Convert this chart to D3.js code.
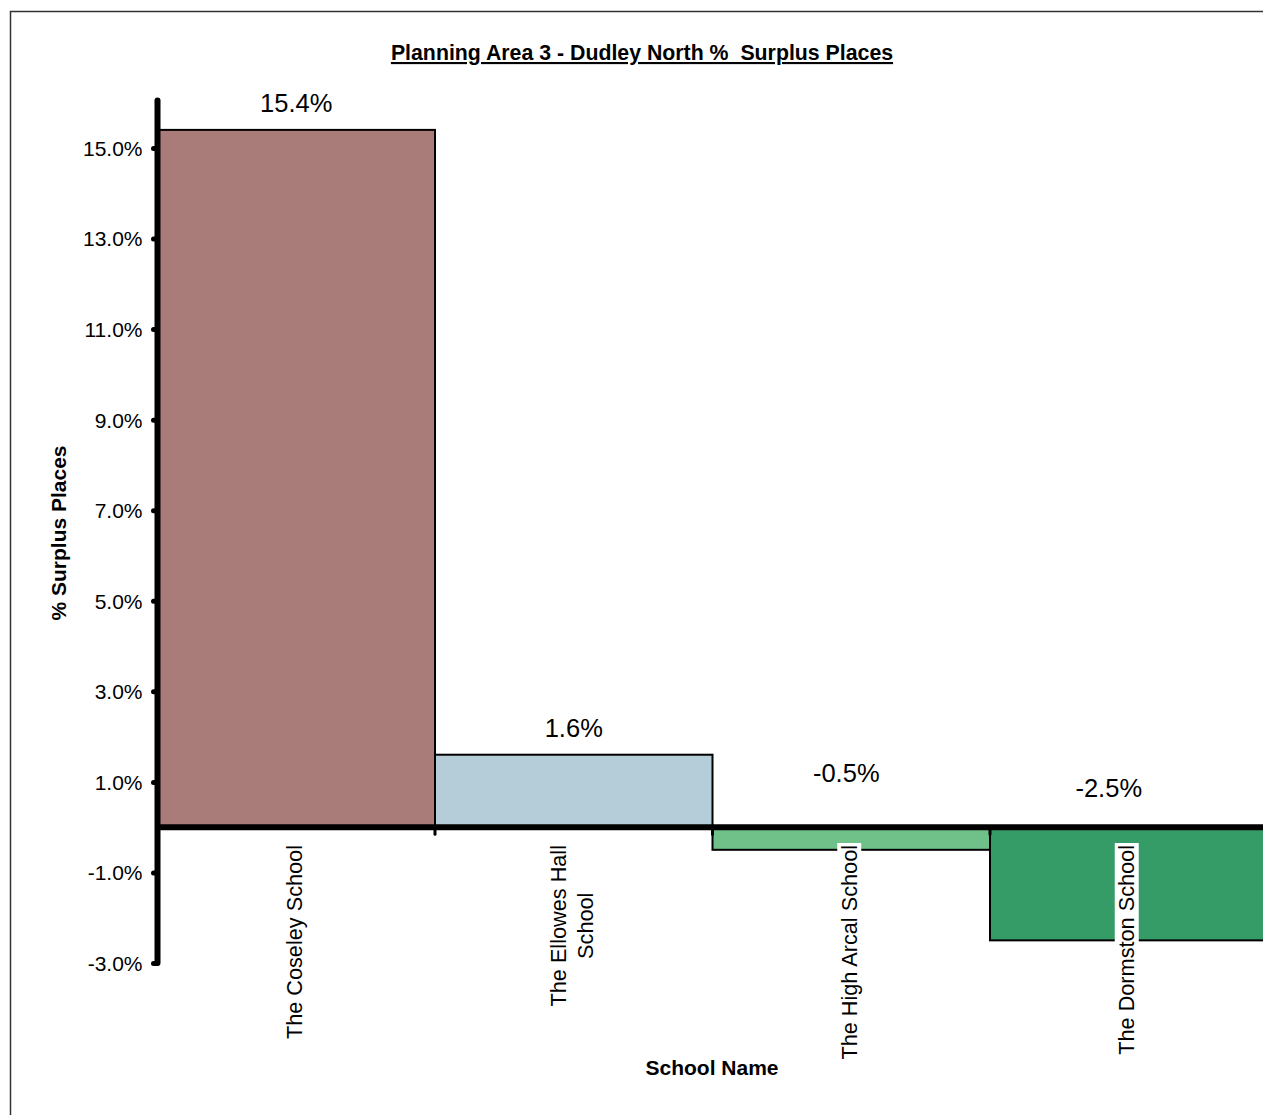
<!DOCTYPE html>
<html><head><meta charset="utf-8">
<script src="https://cdnjs.cloudflare.com/ajax/libs/d3/7.8.5/d3.min.js"></script>
<style>body{margin:0;background:#fff;}svg{display:block;font-family:"Liberation Sans",Arial,sans-serif;}</style>
</head><body>
<script>
const categories = [["The Coseley School"], ["The Ellowes Hall", "School"], ["The High Arcal School"], ["The Dormston School"]];
const values = [15.4, 1.6, -0.5, -2.5];
const valueLabels = ["15.4%", "1.6%", "-0.5%", "-2.5%"];
const colors = ["#a97b79", "#b4cdd8", "#6fc189", "#359c67"];
const tickValues = [-3, -1, 1, 3, 5, 7, 9, 11, 13, 15];
const titleText = "Planning Area 3 - Dudley North %  Surplus Places";
const yTitle = "% Surplus Places";
const xTitle = "School Name";

const W = 1263, H = 1115;
const svg = d3.select("body").append("svg").attr("width", W).attr("height", H);
svg.append("rect").attr("width", W).attr("height", H).attr("fill", "#fff");
svg.append("rect").attr("x", 10.5).attr("y", 11.5).attr("width", 1400).attr("height", 1300)
  .attr("fill", "none").attr("stroke", "#333").attr("stroke-width", 1.5);

const x0 = 157.5, bandW = 277.5;
const x = d3.scaleBand().domain(d3.range(values.length)).range([x0, x0 + bandW * values.length]).padding(0);
const y = d3.scaleLinear().domain([-3, 15]).range([963, 148]);

// bars
svg.selectAll("rect.bar").data(values).join("rect").attr("class", "bar")
  .attr("x", (d, i) => x(i)).attr("width", x.bandwidth())
  .attr("y", d => y(Math.max(0, d))).attr("height", d => Math.abs(y(d) - y(0)))
  .attr("fill", (d, i) => colors[i]).attr("stroke", "#000").attr("stroke-width", 2);

// zero line
svg.append("line").attr("x1", x0).attr("x2", W + 10).attr("y1", y(0)).attr("y2", y(0))
  .attr("stroke", "#000").attr("stroke-width", 6);
// category boundary ticks
svg.selectAll("line.ct").data(d3.range(1, values.length)).join("line").attr("class", "ct")
  .attr("x1", i => x(i)).attr("x2", i => x(i)).attr("y1", y(0)).attr("y2", y(0) + 7)
  .attr("stroke", "#000").attr("stroke-width", 3).attr("stroke-linecap", "round");

// y axis
const yAxis = d3.axisLeft(y).tickValues(tickValues).tickSize(4).tickPadding(6)
  .tickFormat(d => d.toFixed(1) + "%");
const ga = svg.append("g").attr("transform", `translate(${x0},0)`).call(yAxis);
ga.select(".domain").remove();
ga.selectAll(".tick line").attr("stroke", "#000").attr("stroke-width", 5).attr("stroke-linecap", "round")
  .attr("x2", -4).attr("x1", -1);
ga.selectAll(".tick text").attr("font-size", 21).attr("font-family", "Liberation Sans, Arial, sans-serif")
  .attr("fill", "#000").attr("x", -15).attr("dy", "0.35em");
svg.append("line").attr("x1", x0).attr("x2", x0).attr("y1", y(16.05)).attr("y2", y(-3))
  .attr("stroke", "#000").attr("stroke-width", 6).attr("stroke-linecap", "round");

// value labels
svg.selectAll("text.vl").data(values).join("text").attr("class", "vl")
  .attr("x", (d, i) => x(i) + x.bandwidth() / 2 + (d >= 0 ? 0 : -5 - (Math.abs(d) - 0.5) * 7.5))
  .attr("y", d => d >= 0 ? y(d) - 27 + 9 : y(0) - 54 + (Math.abs(d) - 0.5) * 7.5 + 9)
  .attr("text-anchor", "middle").attr("font-size", 25.5).attr("fill", "#000")
  .text((d, i) => valueLabels[i]);

// category labels
const labelTop = 845, lineGap = 27, fs = 21.7;
categories.forEach((lines, i) => {
  const cx = x(i) + x.bandwidth() / 2;
  const g = svg.append("g");
  const bg = g.append("rect").attr("fill", "#fff");
  const n = lines.length;
  const texts = lines.map((t, k) => g.append("text")
    .attr("font-size", fs).attr("fill", "#000").attr("text-anchor", "middle").text(t));
  const maxLen = d3.max(texts, t => t.node().getComputedTextLength());
  const cy = labelTop + maxLen / 2;
  texts.forEach((t, k) => {
    const lx = cx + (k - (n - 1) / 2) * lineGap;
    t.attr("transform", `translate(${lx + 5.5},${cy}) rotate(-90)`);
  });
  const bw = (n - 1) * lineGap + 24;
  bg.attr("x", cx - 2 - bw / 2).attr("y", labelTop - 2).attr("width", bw).attr("height", maxLen + 4);
});

// titles
svg.append("text").attr("x", 642).attr("y", 60).attr("text-anchor", "middle")
  .attr("font-size", 21.3).attr("font-weight", "bold").attr("text-decoration", "underline")
  .style("white-space", "pre").attr("xml:space", "preserve").text(titleText);
svg.append("text").attr("transform", `translate(66,533) rotate(-90)`).attr("text-anchor", "middle")
  .attr("font-size", 21).attr("font-weight", "bold").text(yTitle);
svg.append("text").attr("x", 712).attr("y", 1075).attr("text-anchor", "middle")
  .attr("font-size", 21).attr("font-weight", "bold").text(xTitle);
</script>
</body></html>
